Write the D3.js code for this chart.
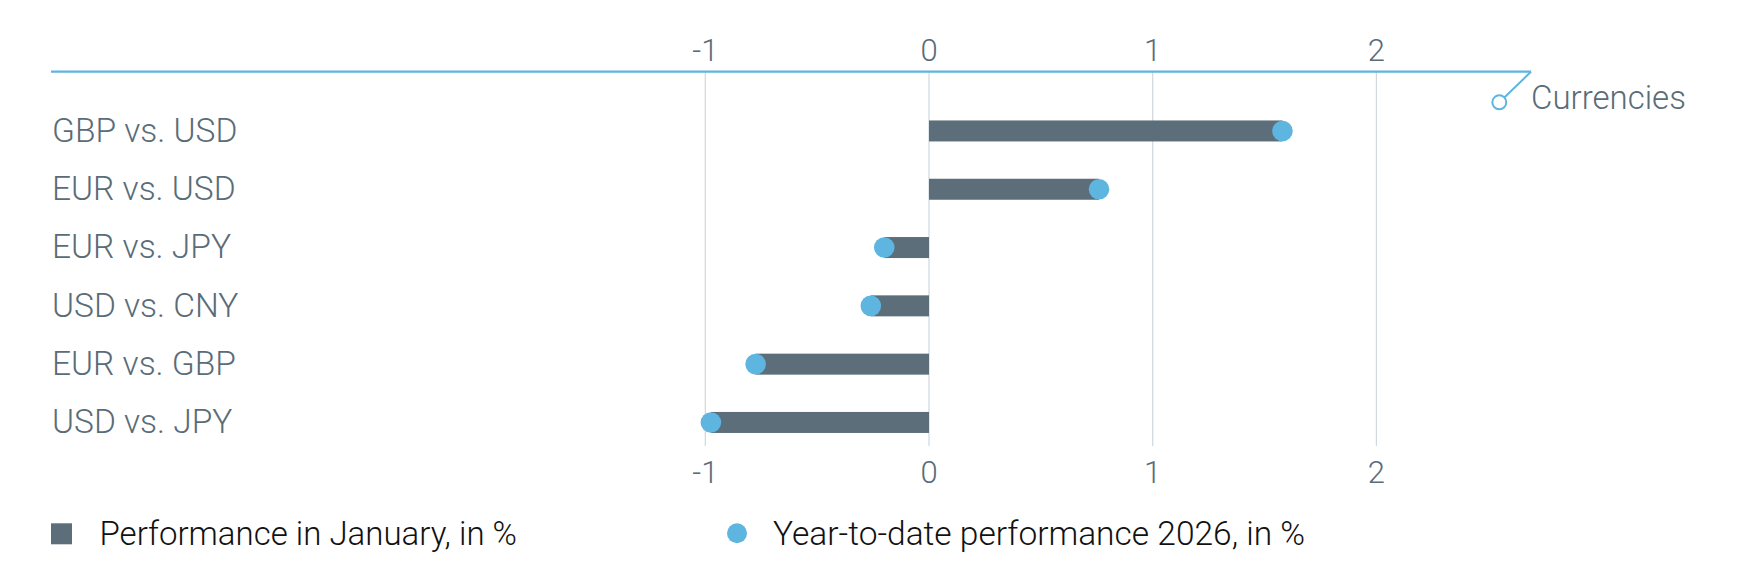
<!DOCTYPE html>
<html><head><meta charset="utf-8">
<script src="https://cdn.jsdelivr.net/npm/d3@7"></script>
<style>html,body{margin:0;padding:0;background:#fff;}svg{display:block;}</style>
</head><body>
<svg id="chart" width="1754" height="586"></svg>
<script>
const categories = ["GBP vs. USD","EUR vs. USD","EUR vs. JPY","USD vs. CNY","EUR vs. GBP","USD vs. JPY"];
const janPerf = [1.58, 0.76, -0.20, -0.26, -0.775, -0.975];
const ytdPerf = [1.58, 0.76, -0.20, -0.26, -0.775, -0.975];
const tickValues = [-1, 0, 1, 2];
const legendLabels = ["Performance in January, in %", "Year-to-date performance 2026, in %"];
const groupLabel = "Currencies";

const svg = d3.select("#chart");
const textColor = "#5a6c78", barColor = "#5b6e79", dotColor = "#5db5e0", gridColor = "#cfd7df";
const font = "Roboto, 'Noto Sans', sans-serif";

const x = d3.scaleLinear().domain([-1, 2]).range([705.3, 1376.4]);
const y = d3.scaleBand().domain(categories).range([101.8, 451.6]).paddingInner(0.64).paddingOuter(0.32);
const rowC = c => y(c) + y.bandwidth() / 2;
const barH = 21;

const axisTop = 71.7, gridBottom = 446;

// gridlines
svg.append("g").selectAll("line").data(tickValues).join("line")
  .attr("x1", d => x(d)).attr("x2", d => x(d))
  .attr("y1", axisTop).attr("y2", gridBottom)
  .attr("stroke", gridColor).attr("stroke-width", 1.2);

// top axis line with callout
svg.append("line").attr("x1", 51).attr("x2", 1531).attr("y1", axisTop).attr("y2", axisTop)
  .attr("stroke", dotColor).attr("stroke-width", 2.2);
const cx = 1499.3, cy = 102.3, cr = 7;
const ang = Math.atan2(axisTop - cy, 1531 - cx);
svg.append("line").attr("x1", 1531).attr("y1", axisTop)
  .attr("x2", cx + cr * Math.cos(ang)).attr("y2", cy + cr * Math.sin(ang))
  .attr("stroke", dotColor).attr("stroke-width", 2);
svg.append("circle").attr("cx", cx).attr("cy", cy).attr("r", cr)
  .attr("fill", "#fff").attr("stroke", dotColor).attr("stroke-width", 2);
svg.append("text").attr("x", 1531).attr("y", 109.3).text(groupLabel)
  .attr("font-family", font).attr("font-size", 33).attr("font-weight", 300).attr("fill", textColor);

// tick labels
const tickFont = 31;
const fmt = d => String(d);
svg.append("g").selectAll("text").data(tickValues).join("text")
  .attr("x", d => x(d)).attr("y", 61.3).attr("text-anchor", "middle")
  .attr("font-family", font).attr("font-size", tickFont).attr("font-weight", 300).attr("fill", textColor)
  .text(fmt);
svg.append("g").selectAll("text").data(tickValues).join("text")
  .attr("x", d => x(d)).attr("y", 482.7).attr("text-anchor", "middle")
  .attr("font-family", font).attr("font-size", tickFont).attr("font-weight", 300).attr("fill", textColor)
  .text(fmt);

// category labels
svg.append("g").selectAll("text").data(categories).join("text")
  .attr("x", 52).attr("y", c => rowC(c) + 10.8)
  .attr("font-family", font).attr("font-size", 33.5).attr("font-weight", 300).attr("fill", textColor)
  .text(c => c);

// bars
svg.append("g").selectAll("rect").data(categories).join("rect")
  .attr("x", (c, i) => Math.min(x(0), x(janPerf[i])))
  .attr("width", (c, i) => Math.abs(x(janPerf[i]) - x(0)))
  .attr("y", c => rowC(c) - barH / 2).attr("height", barH)
  .attr("fill", barColor);

// dots
svg.append("g").selectAll("circle").data(categories).join("circle")
  .attr("cx", (c, i) => x(ytdPerf[i])).attr("cy", c => rowC(c)).attr("r", 10.3)
  .attr("fill", dotColor);

// legend
svg.append("rect").attr("x", 51).attr("y", 523.3).attr("width", 21).attr("height", 21).attr("fill", barColor);
svg.append("text").attr("x", 99.5).attr("y", 545).text(legendLabels[0])
  .attr("font-family", font).attr("font-size", 33).attr("font-weight", 300).attr("fill", "#111");
svg.append("circle").attr("cx", 737).attr("cy", 533.3).attr("r", 10).attr("fill", dotColor);
svg.append("text").attr("x", 773).attr("y", 545).text(legendLabels[1])
  .attr("font-family", font).attr("font-size", 33.5).attr("font-weight", 300).attr("fill", "#111");
</script>
</body></html>
